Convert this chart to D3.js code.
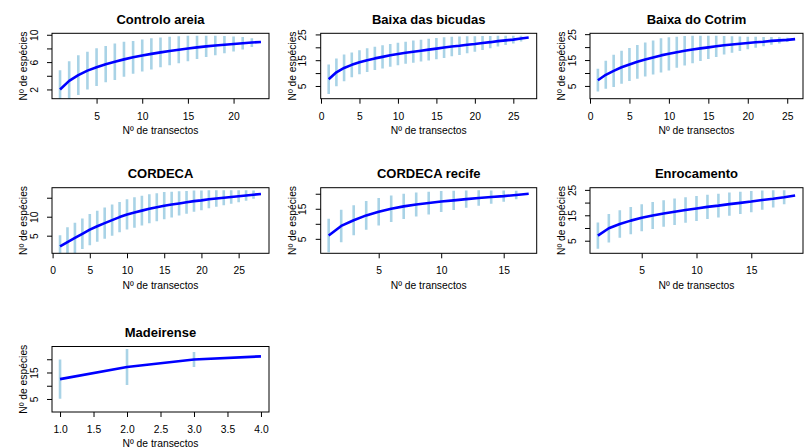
<!DOCTYPE html>
<html><head><meta charset="utf-8">
<script src="https://cdn.jsdelivr.net/npm/d3@7"></script>
<style>
body{margin:0;background:#fff;}
text{font-family:"Liberation Sans",Arial,Helvetica,sans-serif;fill:#000;}
</style>
</head><body>
<svg id="chart" width="804" height="448"></svg>
<script>
// ---- data ----
const titles = ["Controlo areia","Baixa das bicudas","Baixa do Cotrim","CORDECA","CORDECA recife","Enrocamento","Madeirense"];
const xTitle = "Nº de transectos";
const yTitle = "Nº de espécies";

const meanControloAreia = [2.0,3.25,4.1,4.75,5.25,5.7,6.05,6.4,6.7,6.97,7.2,7.42,7.63,7.82,8.0,8.16,8.3,8.43,8.55,8.66,8.76,8.86,8.95];
const sdControloAreia   = [1.4,1.43,1.45,1.38,1.38,1.33,1.33,1.28,1.2,1.17,1.15,1.09,1.04,0.99,0.93,0.85,0.78,0.71,0.63,0.55,0.45,0.32,0];

const meanBaixaBicudas = [7.6,10.3,12.0,13.2,14.2,15.0,15.7,16.3,16.9,17.4,17.9,18.3,18.7,19.1,19.5,19.9,20.3,20.6,21.0,21.3,21.7,22.0,22.4,22.7,23.0,23.4,23.8];
const sdBaixaBicudas   = [2.85,2.7,2.6,2.4,2.35,2.3,2.25,2.25,2.2,2.2,2.15,2.15,2.1,2.1,2.05,2.0,1.9,1.8,1.65,1.5,1.35,1.2,1.05,0.9,0.75,0.55,0];

const meanBaixaCotrim = [7.2,9.3,10.8,12.2,13.3,14.3,15.2,16.0,16.8,17.4,18.0,18.6,19.1,19.5,19.9,20.3,20.7,21.0,21.3,21.6,21.9,22.1,22.4,22.6,22.8,23.1];
const sdBaixaCotrim   = [2.2,2.7,3.1,3.2,3.2,3.25,3.3,3.3,3.3,3.2,3.0,2.85,2.65,2.45,2.25,2.05,1.8,1.6,1.4,1.2,1.05,0.9,0.75,0.6,0.4,0];

const meanCordeca = [2.2,3.3,4.4,5.5,6.6,7.5,8.3,9.1,9.9,10.6,11.1,11.6,12.1,12.5,12.9,13.2,13.5,13.8,14.1,14.3,14.6,14.8,15.0,15.2,15.4,15.6,15.8,16.0];
const sdCordeca   = [1.45,1.95,2.0,2.0,2.05,2.05,2.05,2.05,2.0,2.0,2.0,1.95,1.9,1.85,1.8,1.7,1.6,1.5,1.4,1.3,1.2,1.1,1.0,0.9,0.8,0.7,0.55,0];

const meanCordecaRecife = [6.1,9.3,11.2,12.8,14.0,15.0,15.8,16.4,16.9,17.4,17.8,18.2,18.6,18.9,19.2,19.6,20.0];
const sdCordecaRecife   = [2.8,2.7,2.5,2.4,2.3,2.2,2.1,2.0,1.9,1.75,1.6,1.45,1.3,1.1,0.95,0.7,0];

const meanEnrocamento = [7.0,9.9,11.6,12.9,14.0,14.9,15.7,16.4,17.1,17.7,18.3,18.8,19.4,19.9,20.4,21.0,21.5,22.1,22.8];
const sdEnrocamento   = [2.6,2.8,2.7,2.7,2.65,2.65,2.6,2.6,2.5,2.45,2.4,2.35,2.3,2.2,2.1,1.9,1.7,1.4,0];

const meanMadeirense = [12.5,17.1,19.9,21.1];
const sdMadeirense   = [3.7,3.4,1.4,0];

// axis ticks
const xTicks1 = [5,10,15,20];
const xTicks2 = [0,5,10,15,20,25];
const xTicks3 = [0,5,10,15,20,25];
const xTicks4 = [0,5,10,15,20,25];
const xTicks5 = [5,10,15];
const xTicks6 = [5,10,15];
const xTicks7 = [1.0,1.5,2.0,2.5,3.0,3.5,4.0];

const yTicks1 = [2,4,6,8,10],      yLabels1 = [2,6,10];
const yTicks2 = [5,10,15,20,25],   yLabels2 = [5,15,25];
const yTicks3 = [5,10,15,20,25],   yLabels3 = [5,15,25];
const yTicks4 = [5,10,15],         yLabels4 = [5,10];
const yTicks5 = [5,10,15,20],      yLabels5 = [5,15];
const yTicks6 = [5,10,15,20,25],   yLabels6 = [5,15,25];
const yTicks7 = [5,10,15,20],      yLabels7 = [5,15];

const panels = [
  {title:titles[0], mean:meanControloAreia, sd:sdControloAreia, xt:xTicks1, yt:yTicks1, yl:yLabels1, fmt:d3.format("d")},
  {title:titles[1], mean:meanBaixaBicudas,  sd:sdBaixaBicudas,  xt:xTicks2, yt:yTicks2, yl:yLabels2, fmt:d3.format("d")},
  {title:titles[2], mean:meanBaixaCotrim,   sd:sdBaixaCotrim,   xt:xTicks3, yt:yTicks3, yl:yLabels3, fmt:d3.format("d")},
  {title:titles[3], mean:meanCordeca,       sd:sdCordeca,       xt:xTicks4, yt:yTicks4, yl:yLabels4, fmt:d3.format("d")},
  {title:titles[4], mean:meanCordecaRecife, sd:sdCordecaRecife, xt:xTicks5, yt:yTicks5, yl:yLabels5, fmt:d3.format("d")},
  {title:titles[5], mean:meanEnrocamento,   sd:sdEnrocamento,   xt:xTicks6, yt:yTicks6, yl:yLabels6, fmt:d3.format("d")},
  {title:titles[6], mean:meanMadeirense,    sd:sdMadeirense,    xt:xTicks7, yt:yTicks7, yl:yLabels7, fmt:d3.format(".1f")}
];

// ---- layout ----
const colLeft = [52, 320.7, 590], colRight = [269, 536.7, 803];
const rowTop = [33.3, 187.7, 346.5], rowBottom = [98.7, 253.3, 412];

const svg = d3.select("#chart");
svg.append("rect").attr("width",804).attr("height",448).attr("fill","#fff");

panels.forEach((p, i) => {
  const c = i % 3, r = Math.floor(i / 3);
  const L = colLeft[c], R = colRight[c], T = rowTop[r], B = rowBottom[r];
  const n = p.mean.length;
  const data = p.mean.map((m, k) => ({x:k+1, m:m, s:p.sd[k]}));
  const dx = (n - 1) * 0.04;
  const x = d3.scaleLinear().domain([1 - dx, n + dx]).range([L, R]);
  const lo = 1, hi = d3.max(data, d => Math.max(d.m, d.m + 2*d.s));
  const dy = (hi - lo) * 0.04;
  const y = d3.scaleLinear().domain([lo - dy, hi + dy]).range([B, T]);

  const g = svg.append("g");
  const cid = "clip" + i;
  g.append("clipPath").attr("id", cid).append("rect")
    .attr("x", L).attr("y", T).attr("width", R - L).attr("height", B - T);

  const plot = g.append("g").attr("clip-path", `url(#${cid})`);
  plot.selectAll("line.ci").data(data.filter(d => d.s > 0)).join("line")
    .attr("class","ci")
    .attr("x1", d => x(d.x)).attr("x2", d => x(d.x))
    .attr("y1", d => y(d.m - 2*d.s)).attr("y2", d => y(d.m + 2*d.s))
    .attr("stroke", "#a9d3e6").attr("stroke-width", 2.6);
  plot.append("path").datum(data)
    .attr("d", d3.line().x(d => x(d.x)).y(d => y(d.m)))
    .attr("fill","none").attr("stroke","#0000ff").attr("stroke-width",2.6)
    .attr("stroke-linejoin","round");

  g.append("rect").attr("x", L).attr("y", T).attr("width", R - L).attr("height", B - T)
    .attr("fill","none").attr("stroke","#000").attr("stroke-width",1);

  // x axis
  const xa = g.append("g").attr("transform", `translate(0,${B})`)
    .call(d3.axisBottom(x).tickValues(p.xt).tickFormat(p.fmt).tickSize(5).tickPadding(8.5));
  xa.select(".domain").remove();
  xa.selectAll("text").attr("font-size", "10.3px").attr("font-family", null);
  xa.selectAll("line").attr("stroke","#000");

  // y axis
  const ya = g.append("g").attr("transform", `translate(${L},0)`)
    .call(d3.axisLeft(y).tickValues(p.yt).tickFormat(v => p.yl.includes(v) ? String(v) : "").tickSize(5));
  ya.select(".domain").remove();
  ya.selectAll("line").attr("stroke","#000");
  ya.selectAll("text").attr("font-size", "10.3px").attr("font-family", null)
    .attr("x", null).attr("dy", null).attr("text-anchor","middle")
    .attr("transform", "translate(-14.5,0) rotate(-90)");

  // titles
  g.append("text").attr("x", (L + R)/2).attr("y", T - 9.7).attr("text-anchor","middle")
    .attr("font-size","13px").attr("font-weight","bold").text(p.title);
  g.append("text").attr("x", (L + R)/2).attr("y", B + 35.3).attr("text-anchor","middle")
    .attr("font-size","10.3px").text(xTitle);
  g.append("text").attr("transform", `translate(${L - 25},${(T + B)/2}) rotate(-90)`)
    .attr("text-anchor","middle").attr("font-size","10.3px").text(yTitle);
});
</script>
</body></html>
